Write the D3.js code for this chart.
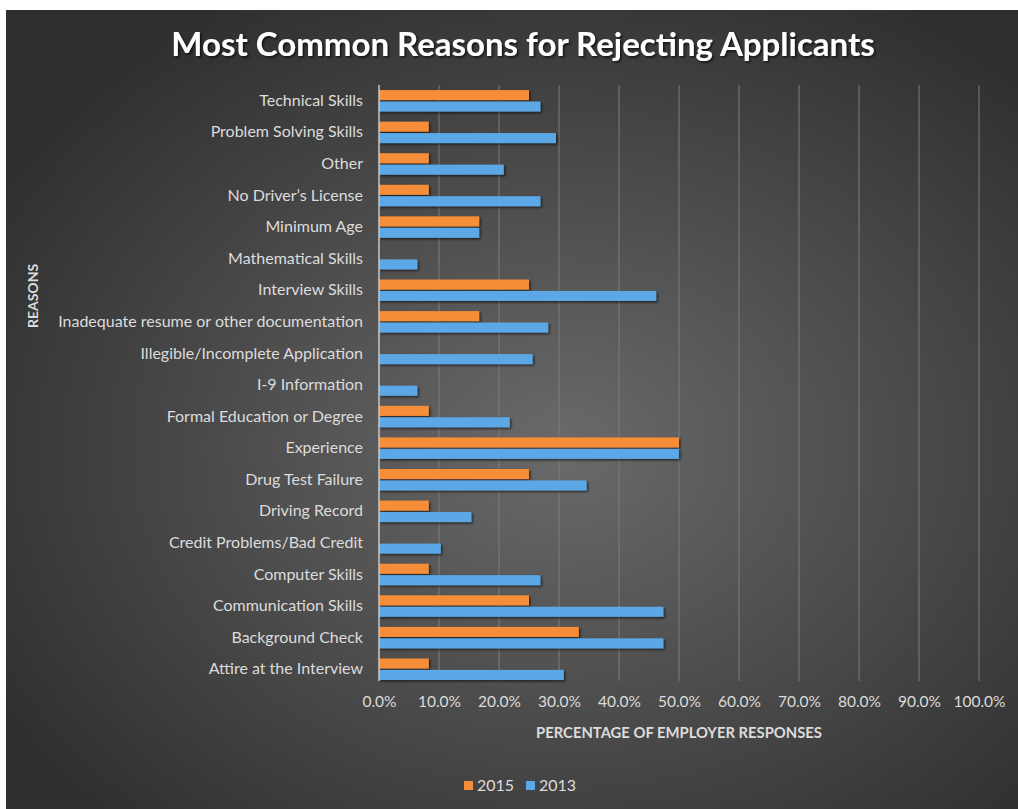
<!DOCTYPE html>
<html>
<head>
<meta charset="utf-8">
<script src="https://cdn.jsdelivr.net/npm/d3@7"></script>
<style>
  body { margin: 0; background: #fff; }
  svg { display: block; }
  text { font-family: Lato, "Open Sans", sans-serif; }
</style>
</head>
<body>
<script>
// reasons, top to bottom as drawn
var reasons = ["Technical Skills", "Problem Solving Skills", "Other", "No Driver\u2019s License",
  "Minimum Age", "Mathematical Skills", "Interview Skills",
  "Inadequate resume or other documentation", "Illegible/Incomplete Application",
  "I-9 Information", "Formal Education or Degree", "Experience", "Drug Test Failure",
  "Driving Record", "Credit Problems/Bad Credit", "Computer Skills",
  "Communication Skills", "Background Check", "Attire at the Interview"];

var series = ["2015", "2013"];
var values2015 = [25.0, 8.3, 8.3, 8.3, 16.7, 0, 25.0, 16.7, 0, 0, 8.3, 50.0, 25.0, 8.3, 0, 8.3, 25.0, 33.3, 8.3];
var values2013 = [26.9, 29.5, 20.8, 26.9, 16.7, 6.4, 46.2, 28.2, 25.6, 6.4, 21.8, 50.0, 34.6, 15.4, 10.3, 26.9, 47.4, 47.4, 30.8];
var ticks = [0, 10, 20, 30, 40, 50, 60, 70, 80, 90, 100];
var colors = {"2015": "#f68d38", "2013": "#5ba8e6"};

var W = 1018, H = 809;
var svg = d3.select("body").append("svg").attr("width", W).attr("height", H);

var defs = svg.append("defs");
var grad = defs.append("radialGradient").attr("id", "bg")
  .attr("cx", "55%").attr("cy", "55%").attr("r", "65%");
grad.append("stop").attr("offset", "0%").attr("stop-color", "#6a6a6a");
grad.append("stop").attr("offset", "100%").attr("stop-color", "#2f2f2f");

var sh = defs.append("filter").attr("id", "shadow")
  .attr("x", "-5%").attr("y", "-30%").attr("width", "115%").attr("height", "180%");
sh.append("feDropShadow").attr("dx", 1.5).attr("dy", 1.5).attr("stdDeviation", 1)
  .attr("flood-color", "#000").attr("flood-opacity", 0.6);

var tsh = defs.append("filter").attr("id", "tshadow");
tsh.append("feDropShadow").attr("dx", 1.5).attr("dy", 1.5).attr("stdDeviation", 1.2)
  .attr("flood-color", "#000").attr("flood-opacity", 0.7);

svg.append("rect").attr("x", 6).attr("y", 10).attr("width", W - 6).attr("height", H - 10)
  .attr("fill", "url(#bg)");

var x = d3.scaleLinear().domain([0, 100]).range([379, 979]);
var y = d3.scaleBand().domain(reasons).range([85, 685]).paddingInner(0.32).paddingOuter(0.16);
var ys = d3.scaleBand().domain(series).range([0, y.bandwidth()]).paddingInner(0.12);

// gridlines
svg.append("g").selectAll("line").data(ticks.slice(1)).join("line")
  .attr("x1", d => x(d)).attr("x2", d => x(d))
  .attr("y1", 85).attr("y2", 681)
  .attr("stroke", "#7d7d7d").attr("stroke-width", 1);

// bars
var rows = reasons.map(function(r, i) {
  return {reason: r, vals: [{s: "2015", v: values2015[i]}, {s: "2013", v: values2013[i]}]};
});
var g = svg.append("g").selectAll("g").data(rows).join("g")
  .attr("transform", d => "translate(0," + y(d.reason) + ")");
g.selectAll("rect").data(d => d.vals.filter(e => e.v > 0)).join("rect")
  .attr("x", x(0))
  .attr("y", d => ys(d.s))
  .attr("width", d => x(d.v) - x(0))
  .attr("height", ys.bandwidth())
  .attr("fill", d => colors[d.s])
  .attr("filter", "url(#shadow)");

// value axis line at 0
svg.append("line").attr("x1", x(0)).attr("x2", x(0)).attr("y1", 85).attr("y2", 681)
  .attr("stroke", "#c8c8c8").attr("stroke-width", 1.5);

// category labels
var yAxis = d3.axisLeft(y).tickSize(0).tickPadding(16);
var ya = svg.append("g").attr("transform", "translate(" + x(0) + ",0)").call(yAxis);
ya.select(".domain").remove();
ya.selectAll("text").attr("fill", "#dcdcdc").attr("font-size", "16px")
  .style("font-family", "Lato, sans-serif");

// tick labels
var xAxis = d3.axisBottom(x).tickValues(ticks).tickSize(0).tickPadding(0)
  .tickFormat(d => d.toFixed(1) + "%");
var xa = svg.append("g").attr("transform", "translate(0,696)").call(xAxis);
xa.select(".domain").remove();
xa.selectAll("text").attr("fill", "#dcdcdc").attr("font-size", "15.5px")
  .style("font-family", "Lato, sans-serif");

// titles
svg.append("text").attr("x", 523).attr("y", 56).attr("text-anchor", "middle")
  .attr("fill", "#ffffff").attr("font-size", "33px").attr("font-weight", "bold")
  .attr("filter", "url(#tshadow)")
  .text("Most Common Reasons for Rejecting Applicants");

svg.append("text").attr("x", 679).attr("y", 738).attr("text-anchor", "middle")
  .attr("fill", "#dcdcdc").attr("font-size", "14.8px").attr("font-weight", "bold")
  .text("PERCENTAGE OF EMPLOYER RESPONSES");

svg.append("text").attr("transform", "translate(38,296) rotate(-90)")
  .attr("text-anchor", "middle")
  .attr("fill", "#dcdcdc").attr("font-size", "14px").attr("font-weight", "bold")
  .text("REASONS");

// legend
var lg = svg.append("g").attr("transform", "translate(464,781)");
var items = lg.selectAll("g").data(series).join("g")
  .attr("transform", (d, i) => "translate(" + (i * 62) + ",0)");
items.append("rect").attr("width", 9).attr("height", 9).attr("fill", d => colors[d]);
items.append("text").attr("x", 13).attr("y", 10).attr("fill", "#dcdcdc")
  .attr("font-size", "16px").text(d => d);
</script>
</body>
</html>
